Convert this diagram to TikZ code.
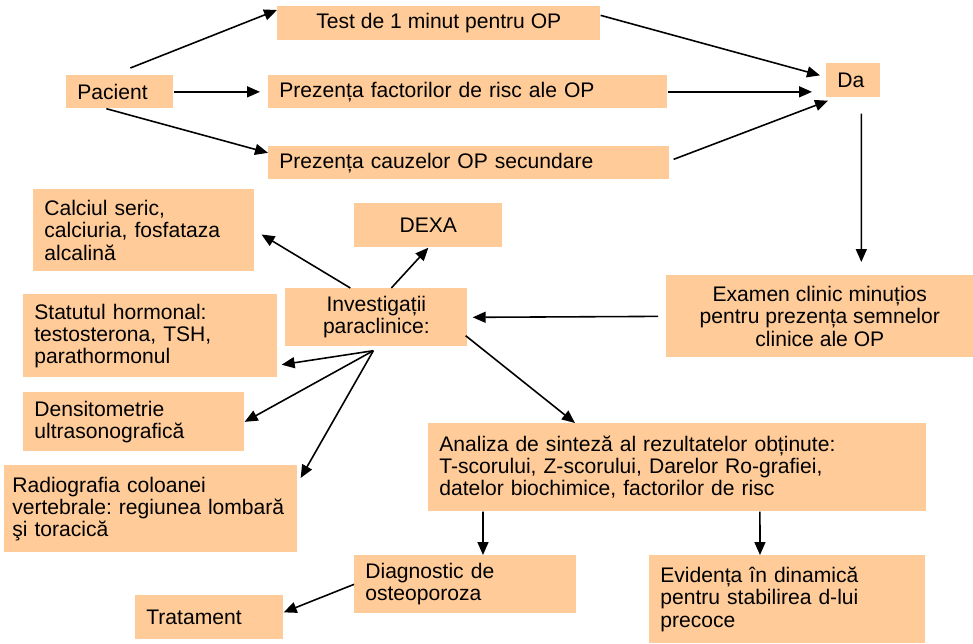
\documentclass[tikz,border=0pt]{standalone}
\usepackage{fontspec}
\setmainfont{Liberation Sans}
\usetikzlibrary{arrows.meta,calc}
\definecolor{peach}{HTML}{FFCC99}
\tikzset{box/.style={fill=peach, anchor=north west, inner xsep=0.22cm, inner ysep=0pt, align=left, font=\fontsize{12}{12.6}\selectfont\frenchspacing}}
\tikzset{cbox/.style={box, align=center}}

\begin{document}
\begin{tikzpicture}[x=0.02cm,y=-0.02cm]
\tikzset{conn/.style={-{Triangle[length=0.26cm,width=0.22cm]}, line width=0.9pt}}
\useasboundingbox (0,0) rectangle (973,643);
\node[box,text width=1.70cm,minimum height=0.66cm] (pacient) at (66,75) {Pacient};
\node[cbox,minimum width=6.46cm,minimum height=0.68cm] (test) at (277,6) {Test de 1 minut pentru OP};
\node[box,text width=7.54cm,minimum height=0.66cm] (factori) at (268,75) {Prezența factorilor de risc ale OP};
\node[box,text width=7.58cm,minimum height=0.66cm] (cauze) at (268,146) {Prezența cauzelor OP secundare};
\node[box,text width=0.64cm,minimum height=0.68cm] (da) at (826,63) {Da};
\node[cbox,minimum width=6.14cm,minimum height=1.64cm] (examen) at (666,275) {Examen clinic minuțios\\pentru prezența semnelor\\clinice ale OP};
\node[cbox,minimum width=3.64cm,minimum height=1.16cm] (invest) at (285,288) {Investigații\\paraclinice:};
\node[cbox,minimum width=2.96cm,minimum height=0.88cm] (dexa) at (354,203) {DEXA};
\node[box,text width=3.98cm,minimum height=1.64cm] (calciu) at (33,189) {Calciul seric,\\calciuria, fosfataza\\alcalină};
\node[box,text width=4.64cm,minimum height=1.66cm] (hormon) at (23,294) {Statutul hormonal:\\testosterona, TSH,\\parathormonul};
\node[box,text width=3.98cm,minimum height=1.18cm] (densit) at (23,392) {Densitometrie\\ultrasonografică};
\node[box,text width=5.54cm,inner xsep=0.16cm,minimum height=1.74cm] (radio) at (4,465) {Radiografia coloanei\\vertebrale: regiunea lombară\\şi toracică};
\node[box,text width=9.52cm,minimum height=1.76cm] (analiza) at (428,423) {Analiza de sinteză al rezultatelor obținute:\\T-scorului, Z-scorului, Darelor Ro-grafiei,\\datelor biochimice, factorilor de risc};
\node[box,text width=4.00cm,minimum height=1.16cm] (diag) at (354,555) {Diagnostic de\\osteoporoza};
\node[box,text width=5.08cm,minimum height=1.76cm] (evid) at (649,555) {Evidența în dinamică\\pentru stabilirea d-lui\\precoce};
\node[box,text width=2.52cm,minimum height=0.88cm] (trat) at (135,595) {Tratament};
\coordinate (fan) at ([shift={(-0.06cm,-0.08cm)}]invest.south);
\draw[conn] ([shift={(0.21cm,0.14cm)}]pacient.north) -- ([yshift=-0.08cm]test.north west);
\draw[conn,shorten >=0.16cm] (pacient.east) -- (factori.west);
\draw[conn] ([xshift=-0.27cm]pacient.south) -- ([yshift=0.2cm]cauze.west);
\draw[conn] ([yshift=0.16cm]test.east) -- ([shift={(-0.12cm,0.1cm)}]da.west);
\draw[conn,shorten >=0.28cm] (factori.east) -- (factori.east -| da.west);
\draw[conn] ([shift={(0.08cm,0.07cm)}]cauze.east) -- ([shift={(0.04cm,-0.06cm)}]da.south west);
\draw[conn] ([shift={(0.16cm,-0.32cm)}]da.south) -- ([shift={(0.83cm,0.26cm)}]examen.north);
\draw[conn,shorten <=0.16cm,shorten >=0.1cm] (examen.west) -- (invest.east);
\draw[conn,shorten >=0.16cm] ([xshift=-0.52cm]invest.north) -- (calciu.east);
\draw[conn] ([xshift=0.3cm]invest.north) -- (dexa.south);
\draw[conn] (fan) -- ([shift={(0.08cm,0.26cm)}]hormon.south east);
\draw[conn] (fan) -- (densit.east);
\draw[conn] (fan) -- ([shift={(0.06cm,-0.26cm)}]radio.north east);
\draw[conn] ([shift={(-0.04cm,0.22cm)}]invest.south east) -- ([xshift=2.94cm]analiza.north west);
\draw[conn] ([xshift=1.1cm]analiza.south west) -- ([xshift=2.58cm]diag.north west);
\draw[conn] ([xshift=6.64cm]analiza.south west) -- ([xshift=2.22cm]evid.north west);
\draw[conn] (diag.west) -- ([yshift=0.1cm]trat.east);
\end{tikzpicture}
\end{document}
